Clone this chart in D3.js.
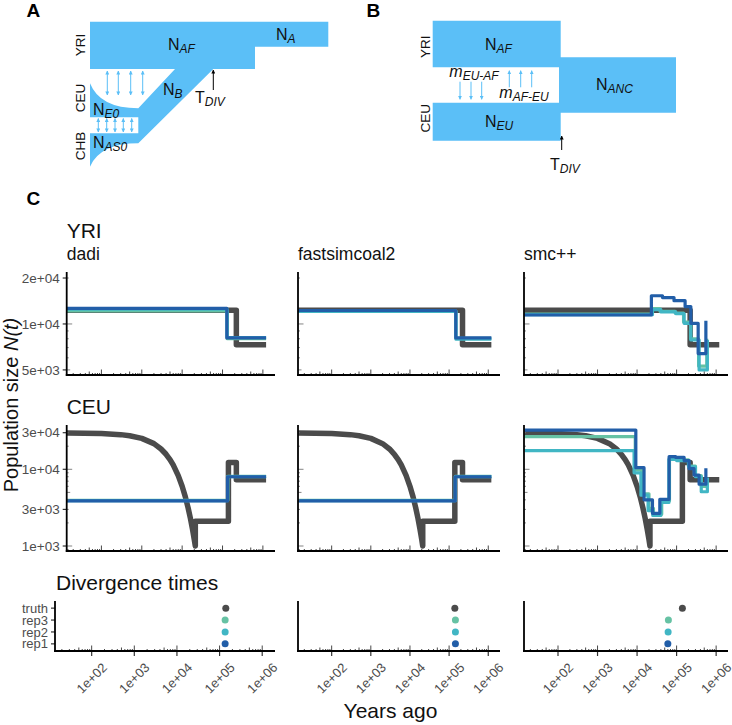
<!DOCTYPE html>
<html><head><meta charset="utf-8">
<script src="https://cdn.jsdelivr.net/npm/d3@7"></script>
<style>body{margin:0;background:#fff} svg{font-family:"Liberation Sans",Arial,Helvetica,sans-serif}</style>
</head><body><svg id="c" width="732" height="725"></svg>
<script>
// ---------------- DATA ----------------
const methods = ["dadi", "fastsimcoal2", "smc++"];
const xTickVals = [1e2, 1e3, 1e4, 1e5, 1e6];
const xTickLabels = ["1e+02", "1e+03", "1e+04", "1e+05", "1e+06"];
const yriTickVals = [5000, 10000, 20000];
const yriTickLabels = ["5e+03", "1e+04", "2e+04"];
const ceuTickVals = [1000, 3000, 10000, 30000];
const ceuTickLabels = ["1e+03", "3e+03", "1e+04", "3e+04"];
const seriesColors = { truth: "#4b4b4b", rep3: "#66c2a4", rep2: "#41b6c4", rep1: "#225ea8" };

// step series: [start time (years ago), population size]
const yri_truth = [[14, 12300], [220000, 7300]];
const yri_dadi_rep1 = [[14, 12650], [128000, 8100]];
const yri_dadi_rep2 = [[14, 12500], [130000, 8150]];
const yri_dadi_rep3 = [[14, 12200], [131000, 8000]];
const yri_fsc_rep1 = [[14, 12250], [148000, 8100]];
const yri_fsc_rep2 = [[14, 12100], [150000, 7950]];
const yri_fsc_rep3 = [[14, 12150], [149000, 8050]];
const yri_smc_rep1 = [[14, 11450], [23000, 15300], [44000, 14900], [86000, 14200], [164000, 13000], [229000, 10100], [351000, 6400], [550000, 10500]];
const yri_smc_rep2 = [[14, 11500], [24500, 12400], [40000, 12000], [95000, 11700], [155000, 10100], [229000, 7850], [371000, 5000], [600000, 7850]];
const yri_smc_rep3 = [[14, 11600], [24000, 12600], [38000, 12100], [92000, 11800], [150000, 10300], [225000, 8000], [360000, 5300], [580000, 8000]];

const ceu_truth_curve = [[14, 29700], [100, 29250], [300, 28300], [500, 27400], [1000, 25300], [2000, 21600], [3000, 18400], [4000, 15700], [5000, 13400], [6000, 11400], [8000, 8260], [10000, 6000], [12000, 4370], [14000, 3170], [16000, 2300], [18000, 1670], [20000, 1210], [21200, 1000]];
const ceu_truth_steps = [[21200, 2100], [140000, 12300], [220000, 7300]];
const ceu_dadi_rep1 = [[14, 3870], [133000, 8000]];
const ceu_dadi_rep2 = [[14, 3900], [134000, 8050]];
const ceu_dadi_rep3 = [[14, 3950], [135000, 8100]];
const ceu_fsc_rep1 = [[14, 3870], [143000, 8000]];
const ceu_fsc_rep2 = [[14, 3900], [144000, 8050]];
const ceu_fsc_rep3 = [[14, 3950], [145000, 8100]];
const ceu_smc_rep1 = [[14, 32500], [9300, 10500], [15000, 4000], [24500, 2670], [37600, 4060], [64600, 14600], [95000, 14300], [155000, 13000], [207000, 10200], [277000, 8400], [371000, 6400], [550000, 10300]];
const ceu_smc_rep2 = [[14, 17500], [8400, 9000], [12500, 4600], [19000, 2900], [25000, 2500], [40000, 3700], [64000, 13500], [100000, 13000], [200000, 10800], [300000, 8000], [420000, 5100], [600000, 7800]];
const ceu_smc_rep3 = [[14, 26600], [9000, 9800], [13000, 4800], [20000, 3100], [26000, 2600], [42000, 3900], [66000, 13800], [105000, 13300], [200000, 11000], [300000, 8300], [420000, 6000], [580000, 7500]];
const seriesEnd = 1.2e6;

// divergence times (years ago)
const divCategories = ["rep1", "rep2", "rep3", "truth"];
const div_dadi = [135000, 135000, 135000, 140000];
const div_fsc = [145000, 145000, 145000, 140000];
const div_smc = [60000, 61000, 62000, 140000];

// ---------------- LAYOUT ----------------
const xDomain = [Math.pow(10, 1.14), Math.pow(10, 6.3)];
const yriDomain = [4630, 21900];
const ceuDomain = [861, 37800];
const rowYRI = [272, 375], rowCEU = [425, 551], rowDIV = [601, 651];
const colsTop = [[66.7, 275], [298, 500], [524, 728]];
const colsDiv = [[55, 275], [298, 500], [524, 728]];

const svg = d3.select("#c");
const AX = "#000", TXT = "#4d4d4d", BLUE = "#5bbff7";

function stepVerts(pairs, end) {
  const v = [];
  pairs.forEach(([t, n], i) => {
    const t1 = i < pairs.length - 1 ? pairs[i + 1][0] : end;
    v.push([t, n], [t1, n]);
  });
  return v;
}
function logTicks(dom) {
  const out = [];
  for (let k = Math.floor(Math.log10(dom[0])); k <= Math.ceil(Math.log10(dom[1])); k++) {
    for (let m = 1; m <= 9; m++) {
      const v = m * Math.pow(10, k);
      if (v >= dom[0] && v <= dom[1]) out.push({ v, len: m === 1 ? 5.5 : (m === 5 ? 3.5 : 2) });
    }
  }
  return out;
}

function drawAxes(g, xs, ys, xr, yr, opts) {
  logTicks(xDomain).forEach(t => {
    g.append("line").attr("x1", xs(t.v)).attr("x2", xs(t.v)).attr("y1", yr[1]).attr("y2", yr[1] - t.len)
      .attr("stroke", "#333").attr("stroke-width", 0.9);
  });
  if (opts.yLog) {
    logTicks(ys.domain()).forEach(t => {
      g.append("line").attr("x1", xr[0]).attr("x2", xr[0] + t.len).attr("y1", ys(t.v)).attr("y2", ys(t.v))
        .attr("stroke", "#777").attr("stroke-width", 0.9);
    });
  }
  if (opts.yLabels) {
    opts.yLabels.vals.forEach((v, i) => {
      g.append("line").attr("x1", xr[0] - 4).attr("x2", xr[0]).attr("y1", ys(v)).attr("y2", ys(v))
        .attr("stroke", "#333").attr("stroke-width", 1.2);
      g.append("text").attr("x", xr[0] - 7).attr("y", ys(v)).attr("dy", "0.35em").attr("text-anchor", "end")
        .attr("font-size", 13.5).attr("fill", TXT).text(opts.yLabels.labels[i]);
    });
  }
  if (opts.xLabels) {
    xTickVals.forEach((v, i) => {
      g.append("line").attr("x1", xs(v)).attr("x2", xs(v)).attr("y1", yr[1]).attr("y2", yr[1] + 5)
        .attr("stroke", "#333").attr("stroke-width", 1.2);
      g.append("text").attr("transform", `translate(${xs(v)},${yr[1] + 27}) rotate(-45)`)
        .attr("text-anchor", "middle").attr("dy", "0.35em").attr("font-size", 13).attr("fill", TXT)
        .text(xTickLabels[i]);
    });
  }
  g.append("line").attr("x1", xr[0]).attr("x2", xr[0]).attr("y1", yr[0]).attr("y2", yr[1] + 0.9)
    .attr("stroke", AX).attr("stroke-width", 1.8);
  g.append("line").attr("x1", xr[0] - 0.9).attr("x2", xr[1]).attr("y1", yr[1]).attr("y2", yr[1])
    .attr("stroke", AX).attr("stroke-width", 1.8);
}

function drawSizePanel(xr, yr, yDom, series, yLabels) {
  const g = svg.append("g");
  const xs = d3.scaleLog().domain(xDomain).range(xr);
  const ys = d3.scaleLog().domain(yDom).range([yr[1], yr[0]]);
  const line = d3.line().x(d => xs(d[0])).y(d => ys(d[1]));
  series.forEach(s => {
    g.append("path").attr("d", line(s.verts)).attr("fill", "none")
      .attr("stroke", seriesColors[s.key]).attr("stroke-width", s.key === "truth" ? 5.5 : 3.2)
      .attr("stroke-linejoin", "round").attr("stroke-linecap", "butt");
  });
  drawAxes(g, xs, ys, xr, yr, { yLog: true, yLabels });
}

const ceuTruthVerts = ceu_truth_curve.concat(stepVerts(ceu_truth_steps, seriesEnd));
const yriSets = [
  [yri_dadi_rep3, yri_dadi_rep2, yri_dadi_rep1, seriesEnd, seriesEnd, seriesEnd],
  [yri_fsc_rep3, yri_fsc_rep2, yri_fsc_rep1, seriesEnd, seriesEnd, seriesEnd],
  [yri_smc_rep3, yri_smc_rep2, yri_smc_rep1, 580000, 600000, 550000]
];
const ceuSets = [
  [ceu_dadi_rep3, ceu_dadi_rep2, ceu_dadi_rep1, seriesEnd, seriesEnd, seriesEnd],
  [ceu_fsc_rep3, ceu_fsc_rep2, ceu_fsc_rep1, seriesEnd, seriesEnd, seriesEnd],
  [ceu_smc_rep3, ceu_smc_rep2, ceu_smc_rep1, 580000, 600000, 550000]
];
methods.forEach((m, i) => {
  const ys = yriSets[i];
  drawSizePanel(colsTop[i], rowYRI, yriDomain, [
    { key: "truth", verts: stepVerts(yri_truth, seriesEnd) },
    { key: "rep3", verts: stepVerts(ys[0], ys[3]) },
    { key: "rep2", verts: stepVerts(ys[1], ys[4]) },
    { key: "rep1", verts: stepVerts(ys[2], ys[5]) }
  ], i === 0 ? { vals: yriTickVals, labels: yriTickLabels } : null);
  const cs = ceuSets[i];
  drawSizePanel(colsTop[i], rowCEU, ceuDomain, [
    { key: "truth", verts: ceuTruthVerts },
    { key: "rep3", verts: stepVerts(cs[0], cs[3]) },
    { key: "rep2", verts: stepVerts(cs[1], cs[4]) },
    { key: "rep1", verts: stepVerts(cs[2], cs[5]) }
  ], i === 0 ? { vals: ceuTickVals, labels: ceuTickLabels } : null);
  // divergence panel
  const xr = colsDiv[i];
  const g = svg.append("g");
  const xs = d3.scaleLog().domain(xDomain).range(xr);
  const yp = d3.scalePoint().domain(divCategories).range([rowDIV[1], rowDIV[0]]).padding(0.6);
  const vals = [div_dadi, div_fsc, div_smc][i];
  divCategories.slice().reverse().forEach(c => {
    const j = divCategories.indexOf(c);
    g.append("circle").attr("cx", xs(vals[j])).attr("cy", yp(c)).attr("r", 3.5).attr("fill", seriesColors[c]);
  });
  if (i === 0) {
    divCategories.forEach(c => {
      g.append("line").attr("x1", xr[0] - 4).attr("x2", xr[0]).attr("y1", yp(c)).attr("y2", yp(c))
        .attr("stroke", "#333").attr("stroke-width", 1.2);
      g.append("text").attr("x", xr[0] - 7).attr("y", yp(c)).attr("dy", "0.35em").attr("text-anchor", "end")
        .attr("font-size", 13).attr("fill", TXT).text(c);
    });
  }
  drawAxes(g, xs, null, xr, rowDIV, { yLog: false, xLabels: true });
  svg.append("text").attr("x", colsTop[i][0]).attr("y", 260).attr("font-size", 17.5).attr("fill", "#111").text(m);
});

// titles
function txt(x, y, s, size, opt = {}) {
  const t = svg.append("text").attr("x", x).attr("y", y).attr("font-size", size).attr("fill", opt.fill || "#000").text(s);
  if (opt.bold) t.attr("font-weight", "bold");
  if (opt.anchor) t.attr("text-anchor", opt.anchor);
  return t;
}
txt(26.5, 205, "C", 19, { bold: true });
txt(66.7, 238, "YRI", 21, { fill: "#111" });
txt(66.7, 414, "CEU", 21, { fill: "#111" });
txt(56, 590, "Divergence times", 21, { fill: "#111" });
txt(390.5, 718, "Years ago", 21, { fill: "#111", anchor: "middle" });
const yt = svg.append("text").attr("transform", "translate(18,405) rotate(-90)").attr("text-anchor", "middle")
  .attr("font-size", 20).attr("fill", "#111");
yt.append("tspan").text("Population size ");
yt.append("tspan").attr("font-style", "italic").text("N(t)");

// ---------------- SCHEMATICS (A, B) ----------------
const defs = svg.append("defs");
function marker(id, color) {
  defs.append("marker").attr("id", id).attr("viewBox", "0 0 10 10").attr("refX", 9).attr("refY", 5)
    .attr("markerWidth", 4).attr("markerHeight", 4).attr("orient", "auto-start-reverse")
    .append("path").attr("d", "M0,0 L10,5 L0,10 Z").attr("fill", color);
}
marker("ab", BLUE); marker("ak", "#000");
function arrow(x, y1, y2, color, both, id) {
  const l = svg.append("line").attr("x1", x).attr("x2", x).attr("y1", y1).attr("y2", y2)
    .attr("stroke", color).attr("stroke-width", 1).attr("marker-end", `url(#${id})`);
  if (both) l.attr("marker-start", `url(#${id})`);
}
function label(x, y, main, sub, size, subSize, mainItalic) {
  const t = svg.append("text").attr("x", x).attr("y", y).attr("font-size", size).attr("fill", "#111");
  const a = t.append("tspan").text(main);
  if (mainItalic) a.attr("font-style", "italic");
  t.append("tspan").attr("font-size", subSize).attr("font-style", "italic").attr("dy", 3).text(sub);
}
function rlabel(x, y, s) {
  svg.append("text").attr("transform", `translate(${x},${y}) rotate(-90)`).attr("text-anchor", "middle")
    .attr("font-size", 13.5).attr("fill", "#111").text(s);
}

// A
txt(26.5, 17, "A", 19, { bold: true });
svg.append("path").attr("fill", BLUE).attr("d",
  "M90,21.7 H328.3 V46.7 H255 V69 H213.3 L138.3,143.3 Q100,143.3 90,166.7 V133.3 H138.3 V117.3 H90 V83.3 Q100,108.3 138.3,108.3 L175,69 H90 Z");
[107.3, 118.3, 130.7, 142.7].forEach(x => arrow(x, 71, 95, BLUE, true, "ab"));
[98.3, 106.7, 115, 123.3, 131.7].forEach(x => arrow(x, 118.5, 132, BLUE, true, "ab"));
arrow(213.3, 90, 70, "#000", false, "ak");
label(168, 50, "N", "AF", 16, 12);
label(276, 40, "N", "A", 16, 12);
label(163, 95, "N", "B", 16, 12);
label(93, 115, "N", "E0", 16, 12);
label(93, 148, "N", "AS0", 16, 12);
label(195, 103, "T", "DIV", 16, 12);
rlabel(85, 45, "YRI"); rlabel(85, 98, "CEU"); rlabel(85, 146, "CHB");

// B
txt(366.5, 17, "B", 19, { bold: true });
svg.append("path").attr("fill", BLUE).attr("d",
  "M432.7,20.7 H560.7 V57.3 H676 V112.7 H560.7 V140.7 H432.7 V102.7 H559 V67.3 H432.7 Z");
[460, 471, 481.7].forEach(x => arrow(x, 81.7, 99.3, BLUE, false, "ab"));
[509.3, 520.7, 531.7].forEach(x => arrow(x, 87.3, 70.7, BLUE, false, "ab"));
arrow(561.7, 150, 136, "#000", false, "ak");
label(485, 50, "N", "AF", 16, 12);
label(485, 126.7, "N", "EU", 16, 12);
label(596, 90, "N", "ANC", 16, 12);
label(449.3, 77.3, "m", "EU-AF", 16, 12, true);
label(499.3, 98.3, "m", "AF-EU", 16, 12, true);
label(550, 170, "T", "DIV", 16, 12);
rlabel(430, 46.7, "YRI"); rlabel(430, 118.3, "CEU");
</script></body></html>
